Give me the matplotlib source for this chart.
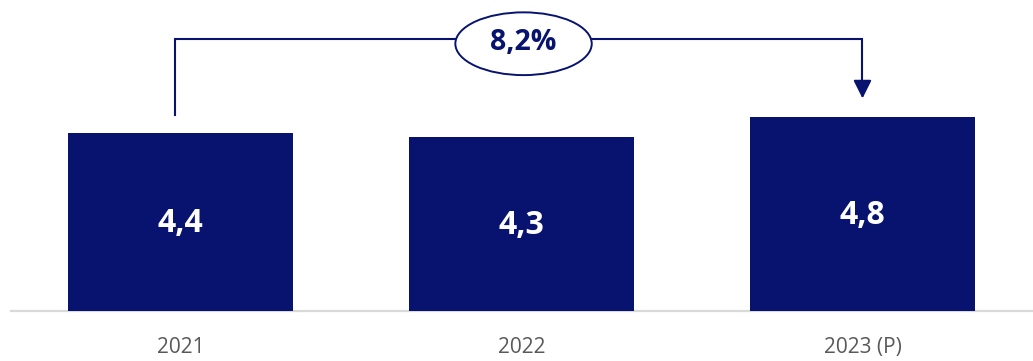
import matplotlib
matplotlib.use("Agg")
import matplotlib.pyplot as plt
from matplotlib.patches import Ellipse, FancyArrowPatch

plt.rcParams['font.family'] = ['Open Sans', 'DejaVu Sans']

# Data
categories = ["2021", "2022", "2023 (P)"]
values = [4.4, 4.3, 4.8]
value_labels = ["4,4", "4,3", "4,8"]
growth_label = "8,2%"

NAVY = "#07136F"
GREY_TEXT = "#595959"
BASELINE = "#D9D9D9"

fig = plt.figure(figsize=(10.33, 3.61), dpi=100)
ax = fig.add_axes([0, 0, 1, 1])
ax.set_xlim(-0.5293, 2.5)
ax.set_ylim(-1.235, 7.68)
ax.axis("off")

x = list(range(len(categories)))
ax.bar(x, values, width=0.66, color=NAVY, zorder=2)

# baseline
ax.plot([-0.5, 2.5], [0, 0], color=BASELINE, lw=1.6, zorder=1, solid_capstyle="butt")

# value labels inside bars
for xi, v, lab in zip(x, values, value_labels):
    ax.text(xi, v / 2 - 0.05, lab, ha="center", va="center", color="white",
            fontsize=23, fontweight="bold", zorder=3)

# category labels
for xi, c in zip(x, categories):
    ax.text(xi, -0.9, c, ha="center", va="center", color=GREY_TEXT, fontsize=15)

# growth bracket from first to last bar
gap = 0.45
top = 6.72
x0 = x[0] - 0.016
x1 = x[-1]
y0 = values[0] + gap
y1 = values[-1] + gap
ax.plot([x0, x0, x1, x1], [y0, top, top, y1 + 0.3], color=NAVY, lw=1.5,
        solid_joinstyle="miter", zorder=2)
arrow = FancyArrowPatch((x1, y1 + 0.4), (x1, y1),
                        arrowstyle="-|>,head_length=11,head_width=5.5",
                        mutation_scale=1, color=NAVY, lw=1.5,
                        shrinkA=0, shrinkB=0, zorder=3)
ax.add_patch(arrow)

# growth bubble
mid = (x[0] + x[-1]) / 2 + 0.006
ax.add_patch(Ellipse((mid, 6.6), width=0.40, height=1.55, facecolor="white",
                     edgecolor=NAVY, lw=1.4, zorder=4))
ax.text(mid, 6.62, growth_label, ha="center", va="center", color=NAVY,
        fontsize=20.5, fontweight="bold", zorder=5)

fig.savefig("out.png", dpi=100)
